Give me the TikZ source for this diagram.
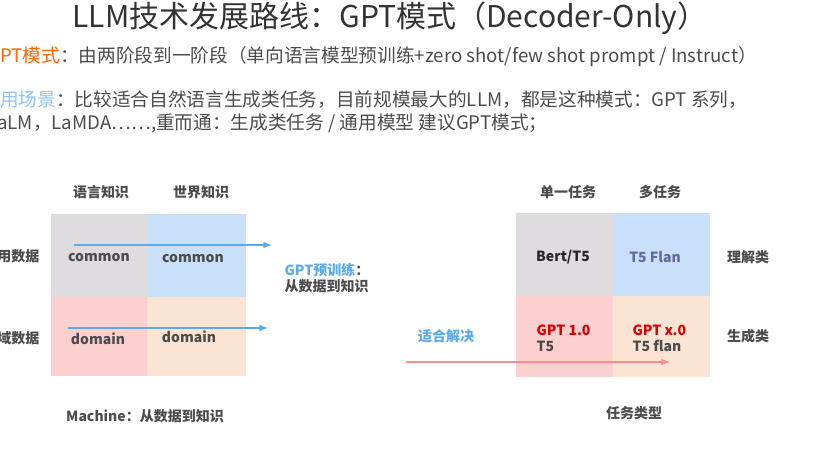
\documentclass[tikz,border=0pt]{standalone}
\usepackage{fontspec}
\setmainfont{Noto Sans CJK SC}
\begin{document}
\begin{tikzpicture}[x=0.75pt,y=-0.75pt,
  lbl/.style={font=\fontsize{10.5}{12}\selectfont\bfseries,text=black!70},
  ln/.style={font=\fontsize{14}{16}\selectfont,text=black!70,anchor=west,inner sep=0},
  arr/.style={-latex,line width=1.2pt}]
\definecolor{lb}{RGB}{200,224,250}
\definecolor{pk}{RGB}{252,208,206}
\definecolor{pe}{RGB}{252,228,212}
\definecolor{gr}{RGB}{222,220,222}
\definecolor{bt}{RGB}{90,170,240}
\useasboundingbox[fill=white] (0,0) rectangle (819,450);
\node[font=\fontsize{22.5}{26}\selectfont,text=black!80] (title) at (390,18) {LLM技术发展路线：GPT模式（Decoder-Only）};
\node[ln] (l1) at (0,57) {\textcolor{orange!80!red}{PT模式}：由两阶段到一阶段（单向语言模型预训练+zero shot/few shot prompt / Instruct）};
\node[ln] (l2) at (0,100) {\textcolor{bt!70}{用场景}：比较适合自然语言生成类任务，目前规模最大的LLM，都是这种模式：GPT 系列，};
\node[ln] (l3) at (-3,123) {aLM，LaMDA……,重而通：生成类任务 / 通用模型 建议GPT模式；};
% left grid
\fill[gr] (51,214) rectangle (147,297);
\fill[lb] (147,214) rectangle (246,297);
\fill[pk] (51,297) rectangle (147,376);
\fill[pe] (147,297) rectangle (246,376);
\node[lbl] (a1) at (101,192) {语言知识};
\node[lbl] (a2) at (201,192) {世界知识};
\node[lbl,anchor=east] (a3) at (44,256) {用数据};
\node[lbl,anchor=east] (a4) at (44,338) {域数据};
\node[lbl] (c1) at (99,258) {common};
\node[lbl] (c2) at (193,259) {common};
\node[lbl] (d1) at (98,339) {domain};
\node[lbl] (d2) at (189,337) {domain};
\node[lbl] (m) at (145,416) {Machine：从数据到知识};
\coordinate (s1) at (74,245); \coordinate (e1) at (272,245);
\coordinate (s2) at (68,328); \coordinate (e2) at (268,328);
\draw[arr,bt] (s1) -- (e1);
\draw[arr,bt] (s2) -- (e2);
\node[lbl,align=left,anchor=west] (g) at (280,278) {\textcolor{bt}{GPT预训练}：\\从数据到知识};
% right grid
\fill[gr] (516,213) rectangle (613,296);
\fill[lb] (613,213) rectangle (710,296);
\fill[pk] (516,296) rectangle (613,377);
\fill[pe] (613,296) rectangle (710,377);
\node[lbl] (b1) at (568,192) {单一任务};
\node[lbl] (b2) at (660,192) {多任务};
\node[lbl] (b3) at (748,257) {理解类};
\node[lbl] (b4) at (748,336) {生成类};
\node[lbl,text=black!85] (x1) at (563,257) {Bert/T5};
\node[lbl,text=black!60!blue!60] (x2) at (655,257) {T5 Flan};
\node[lbl,align=left,anchor=west] (x3) at (532,338) {\textcolor{red!85!black}{GPT 1.0}\\T5};
\node[lbl,align=left,anchor=west] (x4) at (628,338) {\textcolor{red!85!black}{GPT x.0}\\T5 flan};
\node[lbl,text=bt] (fit) at (446,336) {适合解决};
\coordinate (s3) at (406,362); \coordinate (e3) at (670,362);
\draw[arr,red!45] (s3) -- (e3);
\node[lbl] (t) at (634,413) {任务类型};
\end{tikzpicture}
\end{document}
